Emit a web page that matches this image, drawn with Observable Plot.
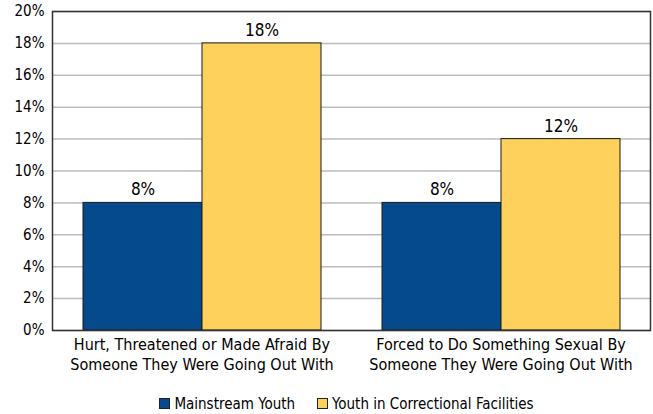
<!DOCTYPE html>
<html><head><meta charset="utf-8">
<script src="https://cdn.jsdelivr.net/npm/d3@7"></script>
<script src="https://cdn.jsdelivr.net/npm/@observablehq/plot@0.6"></script>
<style>
body{margin:0;background:#fff;font-family:"Liberation Sans Narrow","DejaVu Sans Condensed",sans-serif;}
#legend{display:flex;justify-content:center;gap:22px;font-size:15px;height:38px;align-items:center;color:#000;padding-left:40px;box-sizing:border-box;width:653px}
.sw{display:inline-block;width:9px;height:9px;border:1px solid #222;margin-right:4px;vertical-align:middle;position:relative;top:-1px}
</style></head><body><div id="chart"></div><div id="legend"></div>
<script>
const categories = ["Hurt, Threatened or Made Afraid By Someone They Were Going Out With", "Forced to Do Something Sexual By Someone They Were Going Out With"];
const categoryLabels = ["Hurt, Threatened or Made Afraid By\nSomeone They Were Going Out With", "Forced to Do Something Sexual By\nSomeone They Were Going Out With"];
const seriesNames = ["Mainstream Youth", "Youth in Correctional Facilities"];
const mainstream = [8, 8];
const correctional = [18, 12];
const colors = ["#064a8e", "#fdd15b"];
const yTicks = [0, 2, 4, 6, 8, 10, 12, 14, 16, 18, 20];

const data = categories.flatMap((c, i) => [
  {cat: c, series: seriesNames[0], value: mainstream[i]},
  {cat: c, series: seriesNames[1], value: correctional[i]}
]);
const labelOf = new Map(categories.map((c, i) => [c, categoryLabels[i]]));

const chart = Plot.plot({
  width: 653,
  height: 385,
  marginLeft: 51,
  marginRight: 3,
  marginTop: 11,
  marginBottom: 55,
  style: {fontFamily: '"Liberation Sans Narrow","DejaVu Sans Condensed",sans-serif', color: "#000", background: "#fff"},
  fx: {domain: categories, padding: 0, label: null},
  x: {domain: seriesNames, paddingInner: 0, paddingOuter: 0.25, axis: null},
  y: {domain: [0, 20], label: null},
  color: {domain: seriesNames, range: colors},
  marks: [
    Plot.gridY(yTicks, {stroke: "#bdbdbd", strokeOpacity: 1, strokeWidth: 1.5}),
    Plot.barY(data, {fx: "cat", x: "series", y: "value", fill: "series", stroke: "#1a1a1a", strokeWidth: 1}),
    Plot.text(data, {fx: "cat", x: "series", y: "value", text: d => d.value + "%", dy: -13, fontSize: 17, fill: "#000"}),
    Plot.axisY({ticks: yTicks, tickFormat: d => d + "%", tickSize: 0, tickPadding: 8, fontSize: 15, fill: "#000", label: null}),
    Plot.axisFx({anchor: "bottom", tickSize: 0, tickPadding: 5, fontSize: 16, lineHeight: 1.25, fill: "#000", tickFormat: d => labelOf.get(d), label: null}),
    Plot.frame({facet: "super", stroke: "#333", strokeWidth: 1.5})
  ]
});
document.getElementById("chart").appendChild(chart);

const legend = document.getElementById("legend");
seriesNames.forEach((s, i) => {
  const item = document.createElement("span");
  const sw = document.createElement("span");
  sw.className = "sw";
  sw.style.background = colors[i];
  item.appendChild(sw);
  item.appendChild(document.createTextNode(s));
  legend.appendChild(item);
});
</script></body></html>
